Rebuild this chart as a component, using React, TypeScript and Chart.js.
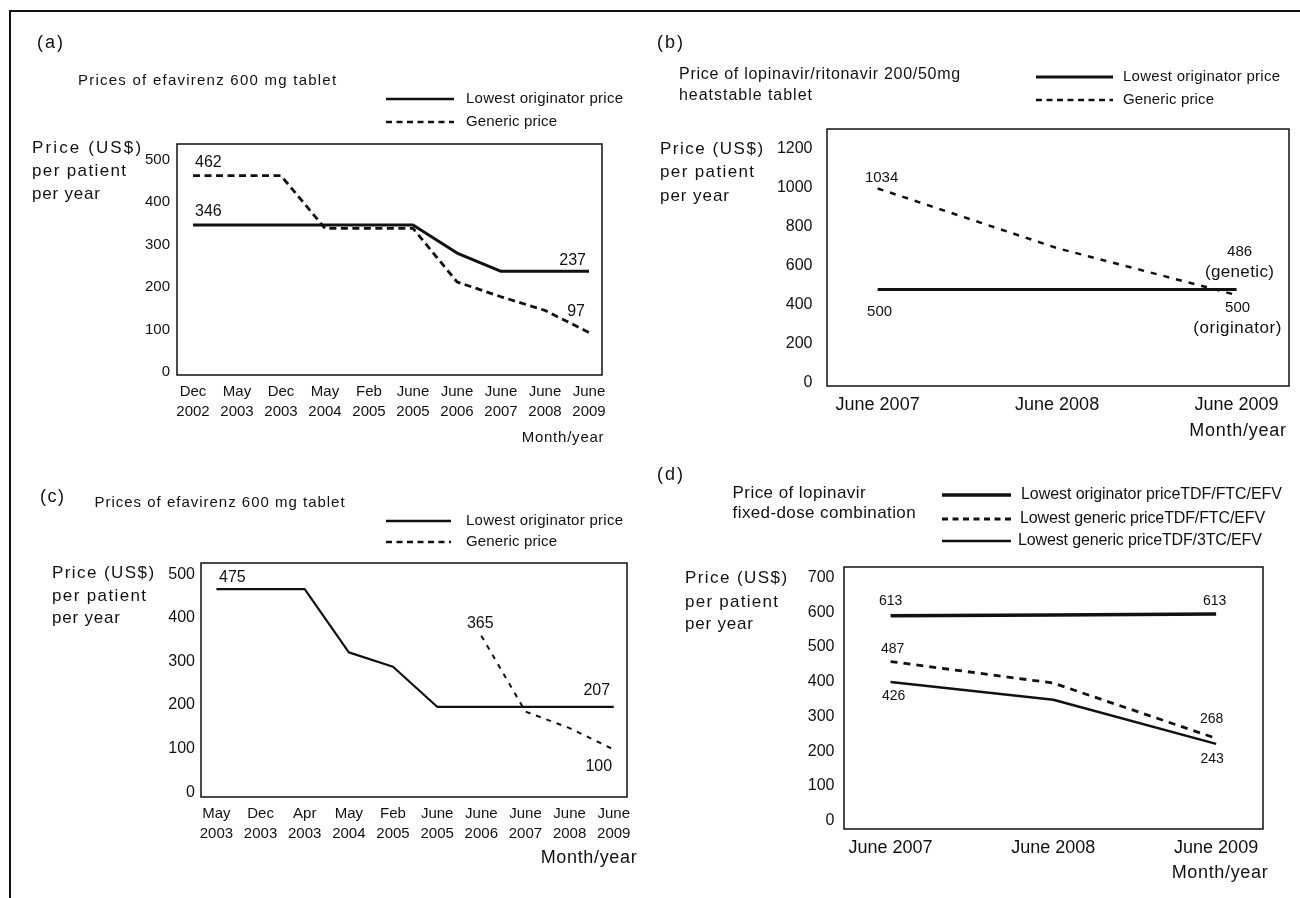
import React, { useEffect, useRef } from 'react';
import { Chart, registerables } from 'chart.js';

Chart.register(...registerables);

const FONT = '"Liberation Sans", Arial, Helvetica, sans-serif';
const INK = '#111111';
const AXW = 60;
const AXH = 60;

// ---------- Panel (a) ----------
const xLabelsA: string[][] = [
  ['Dec', '2002'], ['May', '2003'], ['Dec', '2003'], ['May', '2004'], ['Feb', '2005'],
  ['June', '2005'], ['June', '2006'], ['June', '2007'], ['June', '2008'], ['June', '2009'],
];
const originatorA = [346, 346, 346, 346, 346, 346, 280, 237, 237, 237];
const genericA = [462, 462, 462, 338, 338, 338, 212, 177, 145, 93];
const yTicksA = [0, 100, 200, 300, 400, 500];

// ---------- Panel (b) ----------
const xLabelsB = ['June 2007', 'June 2008', 'June 2009'];
const originatorB = [478, 478, 478];
const genericB = [995, 690, 450];
const yTicksB = [0, 200, 400, 600, 800, 1000, 1200];

// ---------- Panel (c) ----------
const xLabelsC: string[][] = [
  ['May', '2003'], ['Dec', '2003'], ['Apr', '2003'], ['May', '2004'], ['Feb', '2005'],
  ['June', '2005'], ['June', '2006'], ['June', '2007'], ['June', '2008'], ['June', '2009'],
];
const originatorC = [466, 466, 466, 321, 288, 196, 196, 196, 196, 196];
const genericC: (number | null)[] = [null, null, null, null, null, null, 359, 185, 147, 98];
const yTicksC = [0, 100, 200, 300, 400, 500];

// ---------- Panel (d) ----------
const xLabelsD = ['June 2007', 'June 2008', 'June 2009'];
const originatorD = [590, 592, 595];
const genericFtcD = [458, 396, 237];
const generic3tcD = [399, 348, 221];
const yTicksD = [0, 100, 200, 300, 400, 500, 600, 700];

type TextItem = { text: string; x: number; y: number; size: number; align?: CanvasTextAlign; w?: number };
type Note = { ds: number; i: number; text: string; dx: number; dy: number; align: CanvasTextAlign; size: number; w?: number };
type LegendItem = { x1: number; x2: number; y: number; lw: number; dash: number[] };
type Series = { values: (number | null)[]; lw: number; dash: number[] };
type Panel = {
  id: string; left: number; top: number; width: number; height: number;
  box: { l: number; t: number; r: number; b: number };
  xMin: number; xMax: number; yMin: number; yMax: number;
  xLabels: (string | string[])[]; yTicks: number[];
  xFont: number; xLH: number; xPad: number; yFont: number; yPad: number;
  series: Series[]; texts: TextItem[]; legend: LegendItem[]; notes: Note[];
};

const panels: Panel[] = [
  {
    id: 'a', left: 0, top: 0, width: 640, height: 450,
    box: { l: 177, t: 144, r: 602, b: 375 },
    xMin: -0.364, xMax: 9.295, yMin: -7, yMax: 536.5,
    xLabels: xLabelsA, yTicks: yTicksA,
    xFont: 15, xLH: 1.333, xPad: 7, yFont: 15, yPad: 7,
    series: [
      { values: originatorA, lw: 3, dash: [] },
      { values: genericA, lw: 2.8, dash: [7, 4.5] },
    ],
    texts: [
      { text: '(a)', x: 37, y: 43, size: 18, w: 26 },
      { text: 'Prices of efavirenz 600 mg tablet', x: 78, y: 81, size: 15, w: 258 },
      { text: 'Lowest originator price', x: 466, y: 99, size: 15, w: 157 },
      { text: 'Generic price', x: 466, y: 122, size: 15, w: 91 },
      { text: 'Price (US$)', x: 32, y: 148, size: 17, w: 109 },
      { text: 'per patient', x: 32, y: 171, size: 17, w: 94 },
      { text: 'per year', x: 32, y: 194, size: 17, w: 68 },
      { text: 'Month/year', x: 563, y: 438, size: 15, align: 'center', w: 82 },
    ],
    legend: [
      { x1: 386, x2: 454, y: 99, lw: 2.5, dash: [] },
      { x1: 386, x2: 454, y: 122, lw: 2.5, dash: [6, 4.5] },
    ],
    notes: [
      { ds: 1, i: 0, text: '462', dx: 2, dy: -13, align: 'left', size: 16 },
      { ds: 0, i: 0, text: '346', dx: 2, dy: -13, align: 'left', size: 16 },
      { ds: 0, i: 9, text: '237', dx: -3, dy: -11, align: 'right', size: 16 },
      { ds: 1, i: 9, text: '97', dx: -4, dy: -21, align: 'right', size: 16 },
    ],
  },
  {
    id: 'b', left: 640, top: 0, width: 660, height: 450,
    box: { l: 827, t: 129, r: 1289, b: 386 },
    xMin: -0.282, xMax: 2.292, yMin: -15, yMax: 1299,
    xLabels: xLabelsB, yTicks: yTicksB,
    xFont: 18, xLH: 1.2, xPad: 8.5, yFont: 16, yPad: 14.5,
    series: [
      { values: originatorB, lw: 3, dash: [] },
      { values: genericB, lw: 2.5, dash: [6, 7] },
    ],
    texts: [
      { text: '(b)', x: 657, y: 43, size: 18, w: 26 },
      { text: 'Price of lopinavir/ritonavir 200/50mg', x: 679, y: 75, size: 16, w: 281 },
      { text: 'heatstable tablet', x: 679, y: 96, size: 16, w: 133 },
      { text: 'Lowest originator price', x: 1123, y: 77, size: 15, w: 157 },
      { text: 'Generic price', x: 1123, y: 100, size: 15, w: 91 },
      { text: 'Price (US$)', x: 660, y: 149, size: 17, w: 103 },
      { text: 'per patient', x: 660, y: 172, size: 17, w: 94 },
      { text: 'per year', x: 660, y: 196, size: 17, w: 69 },
      { text: 'Month/year', x: 1238, y: 431, size: 18, align: 'center', w: 97 },
    ],
    legend: [
      { x1: 1036, x2: 1113, y: 77, lw: 3, dash: [] },
      { x1: 1036, x2: 1113, y: 100, lw: 2.5, dash: [6, 4.5] },
    ],
    notes: [
      { ds: 1, i: 0, text: '1034', dx: 4, dy: -11, align: 'center', size: 15 },
      { ds: 0, i: 0, text: '500', dx: 2, dy: 22, align: 'center', size: 15 },
      { ds: 1, i: 2, text: '486', dx: 3, dy: -43, align: 'center', size: 15 },
      { ds: 1, i: 2, text: '(genetic)', dx: 3, dy: -23, align: 'center', size: 17, w: 69 },
      { ds: 0, i: 2, text: '500', dx: 1, dy: 18, align: 'center', size: 15 },
      { ds: 0, i: 2, text: '(originator)', dx: 1, dy: 39, align: 'center', size: 17, w: 88 },
    ],
  },
  {
    id: 'c', left: 0, top: 450, width: 640, height: 448,
    box: { l: 201, t: 563, r: 627, b: 797 },
    xMin: -0.349, xMax: 9.3, yMin: -11, yMax: 526,
    xLabels: xLabelsC, yTicks: yTicksC,
    xFont: 15, xLH: 1.333, xPad: 6.5, yFont: 16, yPad: 6,
    series: [
      { values: originatorC, lw: 2.2, dash: [] },
      { values: genericC, lw: 2, dash: [5, 6] },
    ],
    texts: [
      { text: '(c)', x: 40, y: 497, size: 18, w: 24 },
      { text: 'Prices of efavirenz 600 mg tablet', x: 94.5, y: 503, size: 15, w: 250 },
      { text: 'Lowest originator price', x: 466, y: 521, size: 15, w: 157 },
      { text: 'Generic price', x: 466, y: 542, size: 15, w: 91 },
      { text: 'Price (US$)', x: 52, y: 573, size: 17, w: 102 },
      { text: 'per patient', x: 52, y: 596, size: 17, w: 94 },
      { text: 'per year', x: 52, y: 618, size: 17, w: 68 },
      { text: 'Month/year', x: 589, y: 858, size: 18, align: 'center', w: 96 },
    ],
    legend: [
      { x1: 386, x2: 451, y: 521, lw: 2.5, dash: [] },
      { x1: 386, x2: 451, y: 542, lw: 2.5, dash: [6, 4.5] },
    ],
    notes: [
      { ds: 0, i: 0, text: '475', dx: 16, dy: -12, align: 'center', size: 16 },
      { ds: 1, i: 6, text: '365', dx: -1, dy: -12, align: 'center', size: 16 },
      { ds: 0, i: 9, text: '207', dx: -17, dy: -16, align: 'center', size: 16 },
      { ds: 1, i: 9, text: '100', dx: -15, dy: 17, align: 'center', size: 16 },
    ],
  },
  {
    id: 'd', left: 640, top: 450, width: 660, height: 448,
    box: { l: 844, t: 567, r: 1263, b: 829 },
    xMin: -0.286, xMax: 2.288, yMin: -24, yMax: 730,
    xLabels: xLabelsD, yTicks: yTicksD,
    xFont: 18, xLH: 1.2, xPad: 8.5, yFont: 16, yPad: 9.5,
    series: [
      { values: originatorD, lw: 3.5, dash: [] },
      { values: genericFtcD, lw: 2.8, dash: [7, 6] },
      { values: generic3tcD, lw: 2.5, dash: [] },
    ],
    texts: [
      { text: '(d)', x: 657, y: 475, size: 18, w: 26 },
      { text: 'Price of lopinavir', x: 732.6, y: 493, size: 17, w: 133 },
      { text: 'fixed-dose combination', x: 732.6, y: 513, size: 17, w: 183 },
      { text: 'Lowest originator priceTDF/FTC/EFV', x: 1021, y: 495, size: 16, w: 261 },
      { text: 'Lowest generic priceTDF/FTC/EFV', x: 1020, y: 519, size: 16, w: 245 },
      { text: 'Lowest generic priceTDF/3TC/EFV', x: 1018, y: 541, size: 16, w: 244 },
      { text: 'Price (US$)', x: 685, y: 578, size: 17, w: 102 },
      { text: 'per patient', x: 685, y: 602, size: 17, w: 93 },
      { text: 'per year', x: 685, y: 624, size: 17, w: 68 },
      { text: 'Month/year', x: 1220, y: 873, size: 18, align: 'center', w: 96 },
    ],
    legend: [
      { x1: 942, x2: 1011, y: 495, lw: 3.3, dash: [] },
      { x1: 942, x2: 1011, y: 519, lw: 3, dash: [6, 4.5] },
      { x1: 942, x2: 1011, y: 541, lw: 2.6, dash: [] },
    ],
    notes: [
      { ds: 0, i: 0, text: '613', dx: 0, dy: -15, align: 'center', size: 14 },
      { ds: 0, i: 2, text: '613', dx: -1.5, dy: -12.5, align: 'center', size: 14 },
      { ds: 1, i: 0, text: '487', dx: 2, dy: -12, align: 'center', size: 14 },
      { ds: 1, i: 2, text: '268', dx: -4.5, dy: -19, align: 'center', size: 14 },
      { ds: 2, i: 0, text: '426', dx: 3, dy: 14.5, align: 'center', size: 14 },
      { ds: 2, i: 2, text: '243', dx: -4, dy: 15, align: 'center', size: 14 },
    ],
  },
];

function drawText(ctx: CanvasRenderingContext2D, t: TextItem, ox: number, oy: number) {
  const c = ctx as any;
  ctx.font = `${t.size}px ${FONT}`;
  ctx.fillStyle = INK;
  ctx.textBaseline = 'middle';
  ctx.textAlign = t.align || 'left';
  c.letterSpacing = '0px';
  if (t.w) {
    const m = ctx.measureText(t.text).width;
    const n = Math.max(1, t.text.length - 1);
    const ls = Math.max(-1, Math.min(3, (t.w - m) / n));
    c.letterSpacing = ls.toFixed(2) + 'px';
  }
  ctx.fillText(t.text, t.x - ox, t.y - oy);
  c.letterSpacing = '0px';
}

function PanelChart({ p }: { p: Panel }) {
  const ref = useRef<HTMLCanvasElement>(null);
  useEffect(() => {
    const canvas = ref.current;
    if (!canvas) return;
    const decor = {
      id: 'decor-' + p.id,
      afterDraw(chart: any) {
        const ctx: CanvasRenderingContext2D = chart.ctx;
        const a = chart.chartArea;
        ctx.save();
        ctx.strokeStyle = INK;
        ctx.lineWidth = 1.5;
        ctx.setLineDash([]);
        ctx.strokeRect(a.left, a.top, a.right - a.left, a.bottom - a.top);
        for (const l of p.legend) {
          ctx.lineWidth = l.lw;
          ctx.setLineDash(l.dash);
          ctx.beginPath();
          ctx.moveTo(l.x1 - p.left, l.y - p.top);
          ctx.lineTo(l.x2 - p.left, l.y - p.top);
          ctx.stroke();
        }
        ctx.setLineDash([]);
        for (const t of p.texts) drawText(ctx, t, p.left, p.top);
        const xs = chart.scales.x;
        const ys = chart.scales.y;
        for (const n of p.notes) {
          const v = p.series[n.ds].values[n.i];
          if (v == null) continue;
          const px = xs.getPixelForValue(n.i);
          const py = ys.getPixelForValue(v);
          drawText(ctx, { text: n.text, x: px + n.dx, y: py + n.dy, size: n.size, align: n.align, w: n.w }, 0, 0);
        }
        ctx.restore();
      },
    };
    const chart = new Chart(canvas, {
      type: 'line',
      data: {
        datasets: p.series.map((s, k) => ({
          label: 'series' + k,
          data: s.values.map((v, i) => ({ x: i, y: v })) as any,
          borderColor: INK,
          backgroundColor: INK,
          borderWidth: s.lw,
          borderDash: s.dash,
          borderCapStyle: 'butt',
          borderJoinStyle: 'round',
          pointRadius: 0,
          pointHoverRadius: 0,
          tension: 0,
          fill: false,
          spanGaps: false,
        })),
      },
      options: {
        responsive: false,
        animation: false,
        events: [],
        layout: {
          padding: {
            left: p.box.l - p.left - AXW,
            top: p.box.t - p.top,
            right: p.left + p.width - p.box.r,
            bottom: p.top + p.height - p.box.b - AXH,
          },
        },
        plugins: {
          legend: { display: false },
          title: { display: false },
          tooltip: { enabled: false },
        },
        scales: {
          x: {
            type: 'linear',
            min: p.xMin,
            max: p.xMax,
            grid: { display: false, drawTicks: false },
            border: { display: false },
            afterBuildTicks: (s: any) => {
              s.ticks = p.xLabels.map((_, i) => ({ value: i }));
            },
            afterFit: (s: any) => {
              s.height = AXH;
              s.paddingLeft = 0;
              s.paddingRight = 0;
            },
            ticks: {
              color: INK,
              font: { family: FONT, size: p.xFont, lineHeight: p.xLH },
              padding: p.xPad,
              maxRotation: 0,
              minRotation: 0,
              autoSkip: false,
              callback: (v: any) => p.xLabels[Math.round(Number(v))] as any,
            },
          },
          y: {
            type: 'linear',
            min: p.yMin,
            max: p.yMax,
            grid: { display: false, drawTicks: false },
            border: { display: false },
            afterBuildTicks: (s: any) => {
              s.ticks = p.yTicks.map((v) => ({ value: v }));
            },
            afterFit: (s: any) => {
              s.width = AXW;
              s.paddingTop = 0;
              s.paddingBottom = 0;
            },
            ticks: {
              color: INK,
              font: { family: FONT, size: p.yFont },
              padding: p.yPad,
              autoSkip: false,
              callback: (v: any) => String(v),
            },
          },
        },
      } as any,
      plugins: [decor],
    });
    return () => chart.destroy();
  }, [p]);
  return (
    <canvas
      ref={ref}
      width={p.width}
      height={p.height}
      style={{ position: 'absolute', left: p.left, top: p.top, width: p.width, height: p.height }}
    />
  );
}

export default function App() {
  return (
    <div style={{ position: 'absolute', left: 0, top: 0, width: 1300, height: 898, background: '#fff', overflow: 'hidden' }}>
      {panels.map((p) => (
        <PanelChart key={p.id} p={p} />
      ))}
      <div style={{ position: 'absolute', left: 9, top: 10, width: 1291, height: 2, background: INK }} />
      <div style={{ position: 'absolute', left: 9, top: 10, width: 2, height: 888, background: INK }} />
    </div>
  );
}
